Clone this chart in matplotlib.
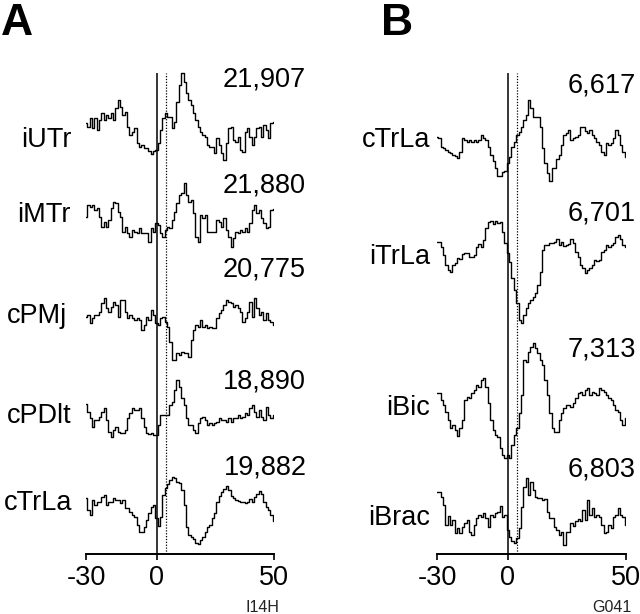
import numpy as np
import matplotlib
matplotlib.use("Agg")
import matplotlib.pyplot as plt

plt.rcParams['font.family'] = ['Liberation Sans', 'DejaVu Sans']

# ---------------- data (amplitudes in arbitrary units, 1 ms bins from -30 to 50 ms) -------------
time_ms = np.arange(-30, 51)

# Panel A
A_labels = ["iUTr", "iMTr", "cPMj", "cPDlt", "cTrLa"]
A_counts = ["21,907", "21,880", "20,775", "18,890", "19,882"]
A_iUTr = [47,43,52,42,52,40,50,57,50,55, 52,57,50,62,70,63,55,58,43,35,
          38,42,27,23,25,22,22,19,16,19, 20,27,40,52,57,53,53,42,48,68,
          85,97,88,77,70,65,57,50,43,38, 35,33,25,23,23,17,32,25,17,10,
          27,42,43,30,28,33,20,18,38,42, 33,25,33,42,43,33,45,40,32,47, 48]
A_iMTr = [38,50,48,50,45,47,38,28,33,28, 35,47,53,52,43,38,23,28,22,18,
          25,23,22,27,22,22,22,13,27,23, 32,30,22,18,25,28,27,35,43,52,
          60,62,72,60,53,55,42,18,13,40, 37,40,23,23,23,23,35,33,28,37,
          25,18,8,17,23,22,25,23,27,23, 32,45,50,42,45,37,32,27,28,45, 46]
A_cPMj = [58,60,52,57,60,60,63,72,77,67, 63,68,73,70,58,75,75,63,57,60,
          57,55,57,55,45,50,58,55,65,60, 52,50,57,58,53,48,33,15,15,22,
          20,23,22,22,18,35,45,50,48,55, 48,50,47,48,47,47,57,62,65,70,
          75,73,72,68,70,67,63,53,57,63, 73,58,77,67,60,63,55,62,55,53, 50]
A_cPDlt = [46,38,32,23,30,30,33,38,42,30, 18,13,20,23,18,17,17,20,32,37,
           42,40,40,42,32,23,17,16,17,15, 15,25,35,35,35,35,45,48,60,70,
           63,52,45,32,25,25,20,17,27,32, 33,30,25,27,25,27,28,32,30,30,
           28,32,28,32,32,35,32,33,37,35, 42,45,38,33,40,33,30,43,35,32, 35]
A_cTrLa = [67,55,50,65,60,63,63,68,70,60, 63,63,67,65,65,62,65,57,57,53,
           50,48,40,33,33,38,45,52,58,60, 47,39,48,70,77,81,85,88,87,83,
           82,75,60,38,30,28,26,22,21,25, 28,33,38,40,47,52,63,69,73,76,
           79,75,69,67,65,64,63,63,62,63, 66,63,68,71,74,71,63,58,55,50, 44]
A_series = [A_iUTr, A_iMTr, A_cPMj, A_cPDlt, A_cTrLa]

# Panel B
B_labels = ["cTrLa", "iTrLa", "iBic", "iBrac"]
B_counts = ["6,617", "6,701", "7,313", "6,803"]
B_cTrLa = [53,52,43,42,40,38,37,35,34,32, 38,52,50,48,50,48,50,48,50,55,
           52,50,43,35,29,22,14,14,18,19, 27,33,43,48,55,58,63,70,75,90,
           82,73,73,73,63,42,27,17,9,22, 22,31,35,45,55,57,60,50,52,53,
           55,63,63,59,57,60,55,52,48,45, 38,35,47,45,47,52,60,55,45,38, 33]
B_iTrLa = [83,83,78,70,60,55,53,60,62,67, 66,71,72,72,68,68,70,78,81,78,
           85,97,103,104,101,104,102,103,93,82, 72,63,47,35,22,5,2,10,17,22,
           25,28,32,40,53,75,80,80,82,82, 83,86,80,83,79,80,81,86,82,73,
           68,60,57,52,55,57,60,65,64,65, 73,75,80,78,80,82,88,90,86,80, 78]
B_iBic = [67,67,60,55,48,40,32,35,30,24, 32,40,60,63,62,67,70,75,73,80,
          82,73,57,40,30,25,23,12,5,2, 5,2,15,25,32,47,65,100,98,108,
          113,117,112,107,100,95,80,65,47,32, 28,28,40,47,52,55,55,53,57,62,
          67,68,65,70,72,65,68,67,65,72, 70,68,65,62,60,55,50,48,40,35, 42]
B_iBrac = [58,58,53,45,25,34,25,30,17,22, 17,23,27,30,18,15,25,32,35,33,
           37,32,23,35,33,37,38,44,33,35, 20,13,9,7,12,22,43,63,72,55,
           68,60,53,52,52,50,51,38,32,32, 23,20,15,18,5,18,18,27,24,29,
           31,29,40,30,50,35,42,33,35,33, 25,17,18,25,22,33,35,42,35,33, 25]
B_series = [B_cTrLa, B_iTrLa, B_iBic, B_iBrac]

x_ticks = [-30, 0, 50]
onset_ms = 0
latency_ms = 4
unit_ids = ["I14H", "G041"]
panel_letters = ["A", "B"]

# ---------------- layout ----------------
W, H = 640, 614
fig = plt.figure(figsize=(W / 100, H / 100), dpi=100)

def fx(px):
    return px / W

def fy(py):
    return 1 - py / H

panels = [
    dict(left=86, right=274, series=A_series, labels=A_labels, counts=A_counts,
         offsets=[444, 359, 239, 164, 49],
         label_pos=[(72, 147), (71, 222), (67, 323), (72, 423), (72, 510)],
         count_pos=[(306, 87), (306, 193), (306, 277), (306, 388), (307, 475)],
         letter_pos=(1, 35), uid_pos=(262, 612)),
    dict(left=437, right=626, series=B_series, labels=B_labels, counts=B_counts,
         offsets=[424, 289, 154, 64],
         label_pos=[(430, 147), (430, 264), (430, 415), (430, 525)],
         count_pos=[(636, 92), (636, 221), (636, 357), (636, 477)],
         letter_pos=(381, 35), uid_pos=(612, 612)),
]

fs = 19.5
for i, p in enumerate(panels):
    ax = fig.add_axes([fx(p['left']), fy(554), fx(p['right'] - p['left']), 554 / H])
    ax.set_xlim(-30, 50)
    ax.set_ylim(H - 554, H)
    for s in ['top', 'right', 'left']:
        ax.spines[s].set_visible(False)
    ax.spines['bottom'].set_linewidth(1.4)
    ax.set_yticks([])
    ax.set_xticks(x_ticks)
    ax.set_xticklabels([str(t) for t in x_ticks])
    ax.tick_params(axis='x', direction='out', length=4, width=1.2, pad=4, labelsize=fs)
    ax.patch.set_visible(False)

    top = H - 73
    ax.vlines(onset_ms, H - 554, top, color='black', lw=1.1)
    ax.vlines(latency_ms, H - 554, top, color='black', lw=0.9, linestyles=(0, (1, 1.3)))

    for vals, off in zip(p['series'], p['offsets']):
        ax.step(time_ms, off + np.asarray(vals, float), where='mid', color='black', lw=1.0)

    for lab, (x, y) in zip(p['labels'], p['label_pos']):
        fig.text(fx(x), fy(y), lab, ha='right', va='baseline', fontsize=fs)
    for c, (x, y) in zip(p['counts'], p['count_pos']):
        fig.text(fx(x), fy(y), c, ha='right', va='baseline', fontsize=fs)
    lx, ly = p['letter_pos']
    fig.text(fx(lx), fy(ly), panel_letters[i], ha='left', va='baseline',
             fontsize=32, fontweight='bold')
    ux, uy = p['uid_pos']
    fig.text(fx(ux), fy(uy), unit_ids[i], ha='center', va='baseline', fontsize=11.5, color='#222222')

fig.savefig("out.png", dpi=100)
